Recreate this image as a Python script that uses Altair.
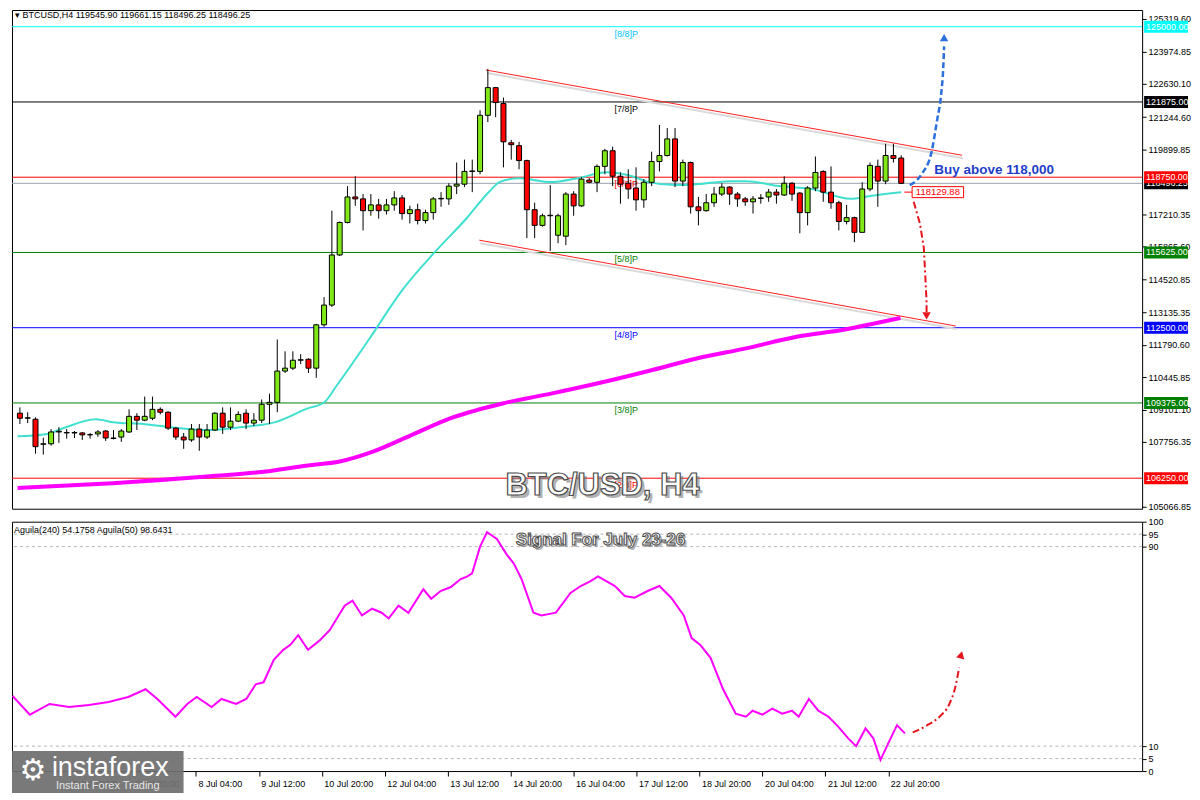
import json
import altair as alt
import pandas as pd

# ---------------- H4 candles (bar 0 = 4 Jul 08:00 ... bar 113 = 23 Jul 04:00) ----------------
bar_open = [108950,108740,108700,107660,107680,108170,108150,108130,108130,108050,
            108090,108210,107920,107960,108170,108820,108660,108740,109110,108990,
            108330,107960,107840,108290,107960,108250,108950,108370,108620,108950,
            108540,108660,109320,109400,110700,110820,111150,111190,110820,112620,
            113440,115520,116870,117930,117850,117360,117600,117360,117600,117890,
            117240,117400,116950,117280,117850,117850,118380,118460,118990,118990,
            121320,122470,121810,120180,120060,119440,117400,116750,117150,116340,
            116300,118050,117560,118630,118540,119200,119850,118790,118500,118300,
            117810,118540,119400,119650,120340,118590,119360,117520,117360,117690,
            118050,118340,118050,117850,117730,117870,117930,118130,118010,118500,
            118090,117280,118300,118990,118130,117690,116910,117070,116460,118260,
            119200,118590,119650,119545.90]
bar_high = [109190,108990,108780,107930,108290,108370,108290,108210,108170,108130,
            108250,108250,108250,108290,109110,108950,109640,109640,109190,109030,
            108370,108130,108500,108500,108500,108990,109190,109190,109030,109110,
            108950,109520,109760,112010,111520,111520,111400,111230,112660,113770,
            117360,116910,118380,118790,118050,118050,117850,117850,118170,118010,
            117570,117650,117400,117930,118130,118500,119360,119480,119480,121530,
            123240,122470,122060,120300,120220,119480,117690,117240,118420,117240,
            118130,118170,118750,118710,119280,119930,120020,118950,119080,119160,
            118670,119810,120920,120790,120790,119480,119400,117930,118050,118340,
            118500,118380,118130,117930,117970,118050,118260,118260,118790,118540,
            118130,118380,119610,119040,119200,117770,117600,117110,118540,119360,
            119480,120140,120140,119661.15]
bar_low = [108500,108540,107270,107230,107600,107720,107890,107920,107840,107890,
           107970,107800,107860,107760,108130,108250,108620,108660,108900,108250,
           107840,107470,107760,107390,107880,108210,108090,108250,108580,108290,
           108420,108540,108500,108990,110620,110740,110990,110620,110420,112540,
           113360,115480,116830,117560,116540,117150,117030,117200,117360,116990,
           116830,116790,116830,116990,117520,117600,118050,118340,118130,118870,
           121040,121240,119160,119480,119080,116220,116220,116700,115690,116010,
           115930,117150,117520,118500,118130,118870,118380,117650,117850,117360,
           117480,118380,118990,119610,118340,118380,117240,116750,117320,117520,
           117970,117600,117520,117560,117240,117650,117730,117650,117970,117770,
           116420,116750,118170,117730,117440,116540,116790,116050,116460,118170,
           117520,118460,119360,118496.25]
bar_close = [108740,108760,107560,107680,108170,108200,108130,108150,108050,108060,
             108170,107920,107900,108210,108820,108660,108820,109110,108990,108330,
             107960,107840,108290,107960,108250,108950,108370,108620,108900,108540,
             108660,109320,109400,110700,110820,111150,111170,110820,112620,113440,
             115520,116870,117930,117850,117360,117600,117360,117600,117890,117240,
             117400,116950,117280,117850,117870,118380,118460,118990,119010,121320,
             122470,121850,120220,120100,119440,117400,116750,117150,117170,117150,
             118050,117560,118670,118540,119200,119850,118790,118460,118260,117810,
             118540,119400,119650,120340,118590,119360,117520,117360,117690,118050,
             118340,118050,117850,117730,117850,117890,118130,118010,118500,118050,
             117280,118300,118950,118130,117690,116910,117070,116460,118260,119240,
             118590,119650,119530,118496.25]
bar_idx = list(range(len(bar_open)))

# time-axis ticks (bar positions) and their labels
tick_idx = [7, 15, 23, 31, 39, 47, 55, 63, 71, 79, 87, 95, 103, 111]
tick_labels = ["5 Jul 12:00", "6 Jul 20:00", "8 Jul 04:00", "9 Jul 12:00", "10 Jul 20:00",
               "12 Jul 04:00", "13 Jul 12:00", "14 Jul 20:00", "16 Jul 04:00", "17 Jul 12:00",
               "18 Jul 20:00", "20 Jul 04:00", "21 Jul 12:00", "22 Jul 20:00"]

# price axis tick labels
price_ticks = [125319.60, 123974.85, 122630.10, 121244.60, 119899.85, 117210.35, 115865.60,
               114520.85, 113135.35, 111790.60, 110445.85, 109101.10, 107756.35, 105066.85]

# Murrey math levels
levels = [125000, 121875, 118750, 115625, 112500, 109375, 106250]
level_names = ["[8/8]P", "[7/8]P", "[6/8]P", "[5/8]P", "[4/8]P", "[3/8]P", "[2/8]P"]
level_colors = ["#00FFFF", "#000000", "#FF0000", "#008000", "#0000FF", "#008000", "#FF0000"]
level_text_colors = ["#00BFFF", "#000000", "#FF0000", "#008000", "#0000FF", "#008000", "#FF0000"]
current_price = 118496.25

# moving averages
cyan_i = [-0.3, 3.5, 5.6, 9.75, 11.9, 16, 20.25, 24.4, 28.5, 32.75, 36.9, 39, 40.6, 44.75, 49,
          53.1, 57.25, 60.25, 61.5, 64, 68.1, 71.5, 75.25, 78.5, 80.6, 84, 86.9, 91, 93.1,
          97.25, 101.5, 106.5, 109, 113]
cyan_v = [107990, 108088, 108333, 108701, 108578, 108496, 108333, 108251, 108374, 108578,
          109150, 109395, 110090, 112010, 114052, 115605, 117034, 118178, 118546, 118709,
          118546, 118709, 118954, 118791, 118546, 118423, 118464, 118587, 118587, 118382,
          118260, 117851, 117974, 118130]
mag_i = [-0.3, 11.9, 24.4, 30.6, 36.9, 41, 45.25, 49.4, 55.6, 61.9, 68.1, 74.4, 80.6, 86.9,
         93.1, 99.75, 105.6, 109.4, 112.9]
mag_v = [105841, 106045, 106331, 106495, 106781, 106944, 107352, 107925, 108783, 109354,
         109763, 110212, 110702, 111233, 111642, 112132, 112418, 112663, 112908]

# channel
chan_i = [59.75, 120.8, 58.9, 120.0]
chan_p = [123203, 119661, 116135, 112569]
chan_g = ["upper", "upper", "lower", "lower"]

# oscillator Aguila(50)
osc_i = [-0.3, 1.9, 4.4, 6.9, 9.4, 11.9, 14.4, 16.6, 18.1, 20.4, 21.9, 23.1, 25, 26.25, 28.1,
         29.4, 30.6, 31.6, 32.9, 34.1, 35, 36, 37.25, 38.75, 40, 41.9, 42.9, 44.1, 45.4, 46.6,
         47.5, 48.75, 50, 51.9, 52.9, 54.1, 55.4, 56.6, 57.5, 58.1, 59.1, 60, 61.25, 62.5, 63.4,
         64.4, 65.9, 66.9, 68.75, 70.6, 71.9, 73.1, 74.1, 76.25, 77.5, 78.75, 80.4, 81.9, 83.4,
         85, 86, 87.1, 88.4, 90, 91.6, 92.9, 93.75, 95, 96.25, 97.5, 98.75, 99.6, 100.9, 102.1,
         103.4, 104.6, 105.9, 106.9, 108.1, 109.1, 110, 111, 112.1, 113.1]
osc_v = [30.1, 22.6, 26.9, 25.7, 26.5, 27.7, 29.7, 32.8, 28.9, 21.8, 26.9, 29.7, 25.7, 28.9, 26.9,
         28.9, 34.8, 35.6, 44.6, 48.6, 50.6, 54.5, 48.6, 52.5, 56.5, 66.3, 68.3, 62.4, 65.1, 63.5,
         61.2, 66.3, 63.5, 72.9, 69.1, 72.2, 73.8, 76.9, 78.1, 79.3, 89.9, 95.8, 93.1, 86.8, 83.2,
         76.9, 63.5, 62.4, 63.5, 71.4, 74.2, 76.1, 78.1, 74.2, 70.2, 69.5, 72.2, 74.2, 69.5,
         62.4, 53.3, 50.6, 45.4, 32.8, 23.0, 21.8, 24.2, 22.6, 25.0, 23.0, 24.2, 21.8, 28.9, 24.2,
         21.8, 17.9, 13.1, 10.0, 17.1, 13.1, 4.5, 11.2, 18.4, 15.1]
osc_grid = [95, 90, 10, 5]
osc_ticks = [0, 5, 10, 90, 95, 100]

# annotation arrows (bar position, value)
blue_i = [114.1, 115.6, 116.9, 117.6, 118.1, 118.4, 118.5]
blue_p = [118423, 118872, 119812, 121119, 122141, 123366, 124183]
red_i = [114.6, 115.4, 115.9, 116.1, 116.25, 116.25]
red_p = [117729, 116830, 115809, 114583, 113562, 113154]
oarr_i = [114.1, 115.9, 117.5, 118.75, 119.5, 120.0]
oarr_v = [15.5, 18.3, 21.8, 26.9, 33.6, 41.5]

header = "\u25be BTCUSD,H4  119545.90 119661.15 118496.25 118496.25"
osc_header = "Aguila(240) 54.1758   Aguila(50) 98.6431"
ma_label = "118129.88"
ma_label_value = 118130

# ---------------- layout ----------------
W, HT, HB = 1133, 500, 250
FONT = "Liberation Sans"
UP, DOWN = "#80E817", "#FF0000"
xs = alt.Scale(domain=[-0.375, 143.25], nice=False, zero=False)
ps = alt.Scale(domain=[104983, 125694], nice=False, zero=False)
osc_scale = alt.Scale(domain=[0, 100], nice=False, zero=False)

PRICE_AXIS = alt.Axis(orient="right", values=price_ticks, format=".2f", title=None,
                      labelOverlap=False, tickSize=4, labelPadding=2, domain=False,
                      grid=False, labelFlush=False)
OSC_AXIS = alt.Axis(orient="right", values=osc_ticks, format="d", title=None, labelOverlap=False,
                    tickSize=4, labelPadding=2, domain=False, grid=False, labelFlush=False)
TIME_AXIS = alt.Axis(orient="bottom", values=tick_idx,
                     labelExpr=json.dumps(tick_labels) + "[(datum.value - 7) / 8]",
                     title=None, tickSize=5, labelAlign="left", labelOffset=2, labelPadding=3,
                     labelFlush=False, labelOverlap=False, domain=False, grid=False)


def xq(f):
    return alt.X(f"{f}:Q", scale=xs, axis=None)


def xb(f):
    return alt.X(f"{f}:Q", scale=xs, axis=TIME_AXIS)


def yp(f):
    return alt.Y(f"{f}:Q", scale=ps, axis=PRICE_AXIS)


def yo(f):
    return alt.Y(f"{f}:Q", scale=osc_scale, axis=OSC_AXIS)


candles = pd.DataFrame({"i": bar_idx, "o": bar_open, "h": bar_high, "l": bar_low, "c": bar_close})
candles["dir"] = ["up" if c >= o else "down" for o, c in zip(bar_open, bar_close)]

lev = pd.DataFrame({"price": levels, "name": level_names, "color": level_colors,
                    "tcolor": level_text_colors})
lev["i"] = 77.75
lev["label"] = [f"{p:.2f}" for p in levels]
cur = pd.DataFrame({"price": [current_price], "color": ["#000000"],
                    "label": [f"{current_price:.2f}"]})

levels_rule = alt.Chart(lev).mark_rule(strokeWidth=1).encode(
    y=yp("price"), color=alt.Color("color:N", scale=None))
cur_rule = alt.Chart(cur).mark_rule(color="#9aa5b1", strokeWidth=1).encode(y=yp("price"))
level_text = alt.Chart(lev).mark_text(font=FONT, fontSize=9, baseline="top", dy=3).encode(
    x=xq("i"), y=yp("price"), text="name:N", color=alt.Color("tcolor:N", scale=None))

chan = pd.DataFrame({"i": chan_i, "p": chan_p, "g": chan_g})
chan_shadow = alt.Chart(chan).mark_line(color="#dadada", strokeWidth=2, yOffset=3, xOffset=1).encode(
    x=xq("i"), y=yp("p"), detail="g:N")
chan_line = alt.Chart(chan).mark_line(color="#FF2020", strokeWidth=1).encode(
    x=xq("i"), y=yp("p"), detail="g:N")

mag = alt.Chart(pd.DataFrame({"i": mag_i, "v": mag_v})).mark_line(
    color="#FF00FF", strokeWidth=4, interpolate="monotone").encode(x=xq("i"), y=yp("v"))
cyan = alt.Chart(pd.DataFrame({"i": cyan_i, "v": cyan_v})).mark_line(
    color="#40E0D0", strokeWidth=2, interpolate="monotone").encode(x=xq("i"), y=yp("v"))

wicks = alt.Chart(candles).mark_rule(color="black", strokeWidth=1).encode(
    x=xq("i"), y=yp("l"), y2="h:Q")
bodies = alt.Chart(candles).mark_bar(size=5, stroke="black", strokeWidth=1).encode(
    x=xq("i"), y=yp("o"), y2="c:Q",
    color=alt.Color("dir:N", scale=alt.Scale(domain=["up", "down"], range=[UP, DOWN]), legend=None))

blue_df = pd.DataFrame({"i": blue_i, "p": blue_p, "k": range(len(blue_i))})
blue_arrow = alt.Chart(blue_df).mark_line(color="#2a6fdb", strokeWidth=2.5, strokeDash=[6, 3],
                                          interpolate="monotone").encode(
    x=xq("i"), y=yp("p"), order="k:Q")
blue_head = alt.Chart(pd.DataFrame({"i": [118.5], "p": [124551]})).mark_point(
    shape="triangle-up", size=70, filled=True, opacity=1, color="#2a6fdb").encode(x=xq("i"), y=yp("p"))
red_df = pd.DataFrame({"i": red_i, "p": red_p, "k": range(len(red_i))})
red_arrow = alt.Chart(red_df).mark_line(color="#E8141C", strokeWidth=2, strokeDash=[7, 3, 2, 3]).encode(
    x=xq("i"), y=yp("p"), order="k:Q")
red_head = alt.Chart(pd.DataFrame({"i": [116.25], "p": [112990]})).mark_point(
    shape="triangle-down", size=70, filled=True, opacity=1, color="#E8141C").encode(x=xq("i"), y=yp("p"))

buy_text = alt.Chart(pd.DataFrame({"i": [117.25], "p": [119036], "t": ["Buy above 118,000"]})).mark_text(
    font=FONT, fontSize=13.5, fontWeight="bold", color="#1f3fc8", align="left", baseline="middle").encode(
    x=xq("i"), y=yp("p"), text="t:N")

ma_box_df = pd.DataFrame({"i": [114.4], "i2": [121.0], "p1": [ma_label_value - 228],
                          "p2": [ma_label_value + 228], "p": [ma_label_value], "ic": [117.7],
                          "i0": [113.4], "t": [ma_label]})
ma_conn = alt.Chart(ma_box_df).mark_rule(color="#FF0000", strokeWidth=1).encode(
    x=xq("i0"), x2="i:Q", y=yp("p"))
ma_box = alt.Chart(ma_box_df).mark_rect(fill="white", stroke="#FF0000", strokeWidth=1).encode(
    x=xq("i"), x2="i2:Q", y=yp("p1"), y2="p2:Q")
ma_text = alt.Chart(ma_box_df).mark_text(font=FONT, fontSize=9.5, color="#FF0000", baseline="middle").encode(
    x=xq("ic"), y=yp("p"), text="t:N")

title_df = pd.DataFrame({"t": ["BTC/USD, H4"]})
title_shadow = alt.Chart(title_df).mark_text(font=FONT, fontSize=31, fontWeight="bold", fill="#808080",
                                             opacity=0.6, baseline="middle").encode(
    x=alt.value(595), y=alt.value(480), text="t:N")
title_main = alt.Chart(title_df).mark_text(font=FONT, fontSize=31, fontWeight="bold", fill="white",
                                           stroke="#4d4d4d", strokeWidth=1.2, baseline="middle").encode(
    x=alt.value(592), y=alt.value(477), text="t:N")
header_text = alt.Chart(pd.DataFrame({"t": [header]})).mark_text(
    font=FONT, fontSize=9, color="black", align="left", baseline="middle").encode(
    x=alt.value(3), y=alt.value(5), text="t:N")

RECT_PATH = "M-1,-0.273L1,-0.273L1,0.273L-1,0.273Z"
cur_box = alt.Chart(cur).mark_point(shape=RECT_PATH, size=1936, filled=True, opacity=1, strokeWidth=0).encode(
    x=alt.value(W + 24), y=yp("price"), color=alt.Color("color:N", scale=None))
cur_box_t = alt.Chart(cur).mark_text(font=FONT, fontSize=9, color="white", align="left", baseline="middle").encode(
    x=alt.value(W + 4), y=yp("price"), text="label:N")
lev_box = alt.Chart(lev).mark_point(shape=RECT_PATH, size=1936, filled=True, opacity=1, strokeWidth=0).encode(
    x=alt.value(W + 24), y=yp("price"), color=alt.Color("color:N", scale=None))
lev_box_t = alt.Chart(lev).mark_text(font=FONT, fontSize=9, color="white", align="left", baseline="middle").encode(
    x=alt.value(W + 4), y=yp("price"), text="label:N")

top = alt.layer(levels_rule, cur_rule, level_text, chan_shadow, chan_line, mag, cyan, wicks, bodies,
                blue_arrow, blue_head, red_arrow, red_head, buy_text, ma_conn, ma_box, ma_text,
                title_shadow, title_main, header_text, cur_box, cur_box_t, lev_box, lev_box_t
                ).properties(width=W, height=HT)

# ---------------- oscillator panel ----------------
grid = alt.Chart(pd.DataFrame({"v": osc_grid})).mark_rule(color="#b5b5b5", strokeDash=[3, 3], strokeWidth=1).encode(
    y=yo("v"))
osc = alt.Chart(pd.DataFrame({"i": osc_i, "v": osc_v})).mark_line(color="#FF00FF", strokeWidth=2).encode(
    x=xb("i"), y=yo("v"))
oarr_df = pd.DataFrame({"i": oarr_i, "v": oarr_v, "k": range(len(oarr_i))})
oarr = alt.Chart(oarr_df).mark_line(color="#E8141C", strokeWidth=2, strokeDash=[7, 3, 2, 3],
                                    interpolate="monotone").encode(x=xb("i"), y=yo("v"), order="k:Q")
oarr_head = alt.Chart(pd.DataFrame({"i": [120.25], "v": [46.6]})).mark_point(
    shape="triangle-up", size=70, filled=True, opacity=1, color="#E8141C", angle=15).encode(x=xb("i"), y=yo("v"))
osc_head = alt.Chart(pd.DataFrame({"t": [osc_header]})).mark_text(
    font=FONT, fontSize=9, color="black", align="left", baseline="middle").encode(
    x=alt.value(2), y=alt.value(8), text="t:N")
sig_df = pd.DataFrame({"t": ["Signal For July 23-26"]})
sig_shadow = alt.Chart(sig_df).mark_text(font=FONT, fontSize=17, fontWeight="bold", fill="#808080",
                                         opacity=0.6, baseline="middle").encode(
    x=alt.value(592), y=alt.value(20), text="t:N")
sig_main = alt.Chart(sig_df).mark_text(font=FONT, fontSize=17, fontWeight="bold", fill="white",
                                       stroke="#4d4d4d", strokeWidth=1, baseline="middle").encode(
    x=alt.value(590), y=alt.value(18), text="t:N")
logo_df = pd.DataFrame({"a": ["instaforex"], "b": ["Instant Forex Trading"], "g": ["\u2699"]})
logo_bg = alt.Chart(logo_df).mark_rect(color="#6f6f6f", opacity=0.93).encode(
    x=alt.value(0), x2=alt.value(172), y=alt.value(230), y2=alt.value(272))
logo_gear = alt.Chart(logo_df).mark_text(font="DejaVu Sans", fontSize=30, color="white", baseline="middle").encode(
    x=alt.value(21), y=alt.value(250), text="g:N")
logo_a = alt.Chart(logo_df).mark_text(font=FONT, fontSize=27, color="white", align="left", baseline="middle").encode(
    x=alt.value(40), y=alt.value(247), text="a:N")
logo_b = alt.Chart(logo_df).mark_text(font=FONT, fontSize=11, color="#e6e6e6", align="left", baseline="middle").encode(
    x=alt.value(44), y=alt.value(265), text="b:N")

bottom = alt.layer(grid, osc, oarr, oarr_head, osc_head, sig_shadow, sig_main,
                   logo_bg, logo_gear, logo_a, logo_b).properties(width=W, height=HB)

chart = alt.vconcat(top, bottom, spacing=4).properties(
    padding={"left": 0, "top": 0, "right": 0, "bottom": 0}, background="white"
).configure_view(stroke="black", strokeWidth=1).configure_axis(
    labelFont=FONT, labelFontSize=9, labelColor="black", tickColor="black", tickWidth=1)

chart.save("out.html", embed_options={"renderer": "svg", "actions": False})
